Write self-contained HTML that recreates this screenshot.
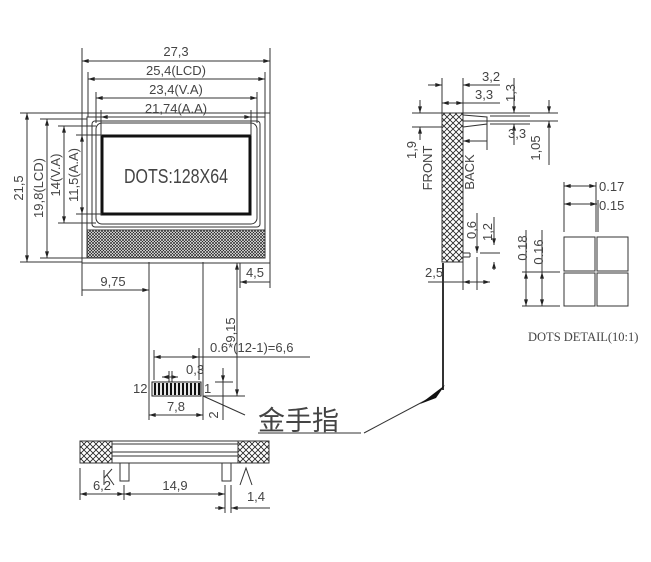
<!DOCTYPE html>
<html><head><meta charset="utf-8"><style>
html,body{margin:0;padding:0;background:#fff;width:651px;height:562px;overflow:hidden}
svg{display:block}
text{font-family:"Liberation Sans","Noto Sans CJK SC",sans-serif;fill:#444}
</style></head><body>
<svg width="651" height="562" viewBox="0 0 651 562" xmlns="http://www.w3.org/2000/svg">
<defs>
<pattern id="h" width="3" height="3" patternUnits="userSpaceOnUse">
<rect width="3" height="3" fill="#fff"/>
<path d="M0,0L3,3M3,0L0,3" stroke="#222" stroke-width="0.7"/>
</pattern>
<pattern id="h2" width="6" height="6" patternUnits="userSpaceOnUse">
<rect width="6" height="6" fill="#fff"/>
<path d="M0,0L6,6M6,0L0,6" stroke="#222" stroke-width="0.8"/>
</pattern>
<marker id="a" viewBox="0 0 10 6" refX="10" refY="3" markerWidth="8" markerHeight="4" orient="auto-start-reverse"><path d="M0,0L10,3L0,6z" fill="#222"/></marker>
</defs>
<g stroke="#333" stroke-width="1" fill="none">
<rect x="82" y="113" width="188" height="150"/>
<rect x="87" y="117" width="178" height="141"/>
<rect x="92" y="121" width="168" height="106" rx="3"/>
<rect x="96" y="123" width="161" height="101" rx="6"/>
<rect x="102" y="136" width="148" height="78" stroke="#111" stroke-width="3"/>
<rect x="87" y="230" width="178" height="28" fill="url(#h)" stroke="#333"/>
<line x1="82" y1="48" x2="82" y2="113"/><line x1="270" y1="48" x2="270" y2="113"/>
<line x1="88" y1="72" x2="88" y2="117"/><line x1="265" y1="72" x2="265" y2="117"/>
<line x1="96" y1="92" x2="96" y2="123"/><line x1="257" y1="92" x2="257" y2="123"/>
<line x1="101" y1="110" x2="101" y2="136"/><line x1="251" y1="110" x2="251" y2="136"/>
<line x1="82" y1="61" x2="270" y2="61" marker-start="url(#a)" marker-end="url(#a)"/>
<line x1="88" y1="79" x2="265" y2="79" marker-start="url(#a)" marker-end="url(#a)"/>
<line x1="96" y1="98" x2="257" y2="98" marker-start="url(#a)" marker-end="url(#a)"/>
<line x1="101" y1="117" x2="251" y2="117" marker-start="url(#a)" marker-end="url(#a)"/>
<line x1="20" y1="113" x2="82" y2="113"/><line x1="20" y1="262" x2="82" y2="262"/>
<line x1="40" y1="119" x2="87" y2="119"/><line x1="40" y1="258" x2="87" y2="258"/>
<line x1="58" y1="126" x2="96" y2="126"/><line x1="58" y1="223" x2="96" y2="223"/>
<line x1="76" y1="135" x2="102" y2="135"/><line x1="76" y1="214" x2="102" y2="214"/>
<line x1="27" y1="113" x2="27" y2="262" marker-start="url(#a)" marker-end="url(#a)"/>
<line x1="47" y1="119" x2="47" y2="258" marker-start="url(#a)" marker-end="url(#a)"/>
<line x1="64" y1="126" x2="64" y2="223" marker-start="url(#a)" marker-end="url(#a)"/>
<line x1="82" y1="135" x2="82" y2="214" marker-start="url(#a)" marker-end="url(#a)"/>
<line x1="149" y1="262" x2="149" y2="420"/>
<line x1="203" y1="262" x2="203" y2="420"/>
<line x1="82" y1="263" x2="82" y2="296"/>
<line x1="82" y1="290" x2="149" y2="290" marker-end="url(#a)"/>
<line x1="240" y1="263" x2="240" y2="288"/><line x1="270" y1="263" x2="270" y2="288"/>
<line x1="240" y1="282" x2="270" y2="282" marker-start="url(#a)"/>
<line x1="237" y1="263" x2="237" y2="396" marker-start="url(#a)" marker-end="url(#a)"/>
<line x1="203" y1="396" x2="245" y2="396"/>
<line x1="154" y1="357" x2="310" y2="357"/>
<line x1="154" y1="350" x2="154" y2="380"/><line x1="199" y1="348" x2="199" y2="380"/>
<line x1="154" y1="357" x2="199" y2="357" marker-start="url(#a)" marker-end="url(#a)"/>
<line x1="162" y1="377" x2="178" y2="377" marker-start="url(#a)" marker-end="url(#a)"/>
<line x1="169" y1="371" x2="169" y2="382"/><line x1="172" y1="371" x2="172" y2="382"/>
<line x1="223" y1="368" x2="223" y2="420"/>
<line x1="215" y1="382" x2="233" y2="382"/>
<line x1="223" y1="370" x2="223" y2="382" marker-end="url(#a)"/>
<line x1="149" y1="415" x2="203" y2="415" marker-start="url(#a)" marker-end="url(#a)"/>
<line x1="203" y1="396" x2="245" y2="415"/>
<line x1="258" y1="433" x2="361" y2="433"/>
<line x1="364" y1="433" x2="430" y2="398"/>
<line x1="443" y1="263" x2="443" y2="390" stroke-width="2"/>
</g>
<rect x="152" y="382" width="49" height="14" fill="#fff" stroke="#222"/>
<g stroke="#111" stroke-width="2.2">
<line x1="155" y1="383" x2="155" y2="395"/><line x1="159" y1="383" x2="159" y2="395"/><line x1="163" y1="383" x2="163" y2="395"/><line x1="167" y1="383" x2="167" y2="395"/><line x1="171" y1="383" x2="171" y2="395"/><line x1="175" y1="383" x2="175" y2="395"/><line x1="179" y1="383" x2="179" y2="395"/><line x1="183" y1="383" x2="183" y2="395"/><line x1="187" y1="383" x2="187" y2="395"/><line x1="191" y1="383" x2="191" y2="395"/><line x1="195" y1="383" x2="195" y2="395"/><line x1="199" y1="383" x2="199" y2="395"/>
</g>
<path d="M420,404L445,385L436,398z" fill="#111"/>
<g stroke="#333" stroke-width="1" fill="none">
<rect x="80" y="441" width="189" height="22"/>
<line x1="112" y1="444" x2="238" y2="444"/>
<line x1="112" y1="452" x2="238" y2="452"/>
<line x1="112" y1="456" x2="238" y2="456"/>
<rect x="80" y="441" width="32" height="22" fill="url(#h2)"/>
<rect x="238" y="441" width="31" height="22" fill="url(#h2)"/>
<rect x="120" y="463" width="9" height="18" fill="#fff"/>
<rect x="222" y="463" width="9" height="18" fill="#fff"/>
<line x1="80" y1="468" x2="80" y2="500"/>
<line x1="124" y1="485" x2="124" y2="500"/>
<line x1="225" y1="485" x2="225" y2="513"/>
<line x1="231" y1="485" x2="231" y2="513"/>
<line x1="80" y1="494" x2="124" y2="494" marker-start="url(#a)" marker-end="url(#a)"/>
<line x1="124" y1="494" x2="225" y2="494" marker-start="url(#a)" marker-end="url(#a)"/>
<line x1="215" y1="508" x2="225" y2="508" marker-end="url(#a)"/>
<line x1="231" y1="508" x2="270" y2="508" marker-start="url(#a)"/>
<path d="M104,470L104,485M104,478L112,469M107,475L114,485"/>
<path d="M240,485L246,468L252,485"/>
</g>
<g stroke="#333" stroke-width="1" fill="none">
<rect x="442" y="113" width="21" height="149" fill="url(#h2)"/>
<path d="M463,115L487,117L487,124L463,127"/>
<line x1="463" y1="253" x2="470" y2="253"/><line x1="463" y1="257" x2="470" y2="257"/>
<line x1="470" y1="253" x2="470" y2="257"/>
<line x1="442" y1="78" x2="442" y2="113"/><line x1="463" y1="78" x2="463" y2="113"/>
<line x1="428" y1="85" x2="442" y2="85" marker-end="url(#a)"/>
<line x1="463" y1="85" x2="500" y2="85" marker-start="url(#a)"/>
<line x1="442" y1="103" x2="463" y2="103" marker-start="url(#a)" marker-end="url(#a)"/>
<line x1="463" y1="103" x2="500" y2="103"/>
<line x1="412" y1="113" x2="442" y2="113"/><line x1="412" y1="127" x2="442" y2="127"/>
<line x1="420" y1="100" x2="420" y2="113" marker-end="url(#a)"/>
<line x1="420" y1="127" x2="420" y2="140" marker-start="url(#a)"/>
<line x1="463" y1="113" x2="558" y2="113"/><line x1="463" y1="121" x2="558" y2="121"/>
<line x1="490" y1="116" x2="530" y2="116"/><line x1="490" y1="124" x2="530" y2="124"/>
<line x1="514" y1="78" x2="514" y2="113" marker-end="url(#a)"/>
<line x1="514" y1="124" x2="514" y2="145" marker-start="url(#a)"/>
<line x1="549" y1="100" x2="549" y2="113" marker-end="url(#a)"/>
<line x1="549" y1="121" x2="549" y2="165" marker-start="url(#a)"/>
<line x1="487" y1="124" x2="487" y2="150"/>
<line x1="463" y1="141" x2="487" y2="141" marker-start="url(#a)"/>
<line x1="477" y1="213" x2="477" y2="253" marker-end="url(#a)"/>
<line x1="477" y1="257" x2="477" y2="290"/>
<line x1="494" y1="217" x2="494" y2="245" marker-end="url(#a)"/>
<line x1="494" y1="262" x2="494" y2="270" marker-start="url(#a)"/>
<line x1="480" y1="253" x2="500" y2="253"/>
<line x1="463" y1="262" x2="463" y2="290"/>
<line x1="428" y1="282" x2="463" y2="282"/>
<line x1="463" y1="282" x2="490" y2="282" marker-start="url(#a)" marker-end="url(#a)"/>
<rect x="564" y="237" width="31" height="34"/>
<rect x="597" y="237" width="31" height="34"/>
<rect x="564" y="273" width="31" height="33"/>
<rect x="597" y="273" width="31" height="33"/>
<line x1="564" y1="182" x2="564" y2="232"/><line x1="596" y1="182" x2="596" y2="232"/><line x1="598" y1="200" x2="598" y2="232"/>
<line x1="564" y1="186" x2="596" y2="186" marker-start="url(#a)" marker-end="url(#a)"/>
<line x1="564" y1="204" x2="597" y2="204" marker-start="url(#a)" marker-end="url(#a)"/>
<line x1="522" y1="272" x2="560" y2="272"/><line x1="522" y1="306" x2="560" y2="306"/>
<line x1="526" y1="272" x2="526" y2="306" marker-start="url(#a)" marker-end="url(#a)"/>
<line x1="542" y1="272" x2="542" y2="306" marker-start="url(#a)" marker-end="url(#a)"/>
<line x1="526" y1="230" x2="526" y2="272"/><line x1="542" y1="230" x2="542" y2="272"/>
</g>
<g font-size="13">
<text x="176" y="56" text-anchor="middle">27,3</text>
<text x="176" y="75" text-anchor="middle">25,4(LCD)</text>
<text x="176" y="94" text-anchor="middle">23,4(V.A)</text>
<text x="176" y="113" text-anchor="middle">21,74(A.A)</text>
<text transform="translate(23,188) rotate(-90)" text-anchor="middle">21,5</text>
<text transform="translate(43,188) rotate(-90)" text-anchor="middle">19,8(LCD)</text>
<text transform="translate(60,175) rotate(-90)" text-anchor="middle">14(V.A)</text>
<text transform="translate(78,175) rotate(-90)" text-anchor="middle">11,5(A.A)</text>
<text x="113" y="286" text-anchor="middle">9,75</text>
<text x="255" y="277" text-anchor="middle">4,5</text>
<text transform="translate(235,330) rotate(-90)" text-anchor="middle">9,15</text>
<text x="210" y="352">0.6*(12-1)=6,6</text>
<text x="186" y="374">0,3</text>
<text x="133" y="393">12</text>
<text x="204" y="393">1</text>
<text x="176" y="411" text-anchor="middle">7,8</text>
<text transform="translate(218,415) rotate(-90)" text-anchor="middle">2</text>
<text x="102" y="490" text-anchor="middle">6,2</text>
<text x="175" y="490" text-anchor="middle">14,9</text>
<text x="256" y="501" text-anchor="middle">1,4</text>
<text x="482" y="81">3,2</text>
<text x="475" y="99">3,3</text>
<text transform="translate(515,93) rotate(-90)" text-anchor="middle">1,3</text>
<text x="508" y="138">3,3</text>
<text transform="translate(540,148) rotate(-90)" text-anchor="middle">1,05</text>
<text transform="translate(416,150) rotate(-90)" text-anchor="middle">1,9</text>
<text transform="translate(432,168) rotate(-90)" text-anchor="middle">FRONT</text>
<text transform="translate(474,172) rotate(-90)" text-anchor="middle">BACK</text>
<text transform="translate(476,230) rotate(-90)" text-anchor="middle">0,6</text>
<text transform="translate(492,232) rotate(-90)" text-anchor="middle">1,2</text>
<text x="425" y="277">2,5</text>
<text x="599" y="191">0.17</text>
<text x="599" y="210">0.15</text>
<text transform="translate(527,248) rotate(-90)" text-anchor="middle">0.18</text>
<text transform="translate(543,252) rotate(-90)" text-anchor="middle">0.16</text>
</g>
<text transform="translate(176,183) scale(0.8,1)" text-anchor="middle" font-size="20">DOTS:128X64</text>
<text x="258" y="430" font-size="27">金手指</text>
<text x="528" y="341" font-size="12.5" style="font-family:'Liberation Serif',serif">DOTS DETAIL(10:1)</text>
</svg>
</body></html>
